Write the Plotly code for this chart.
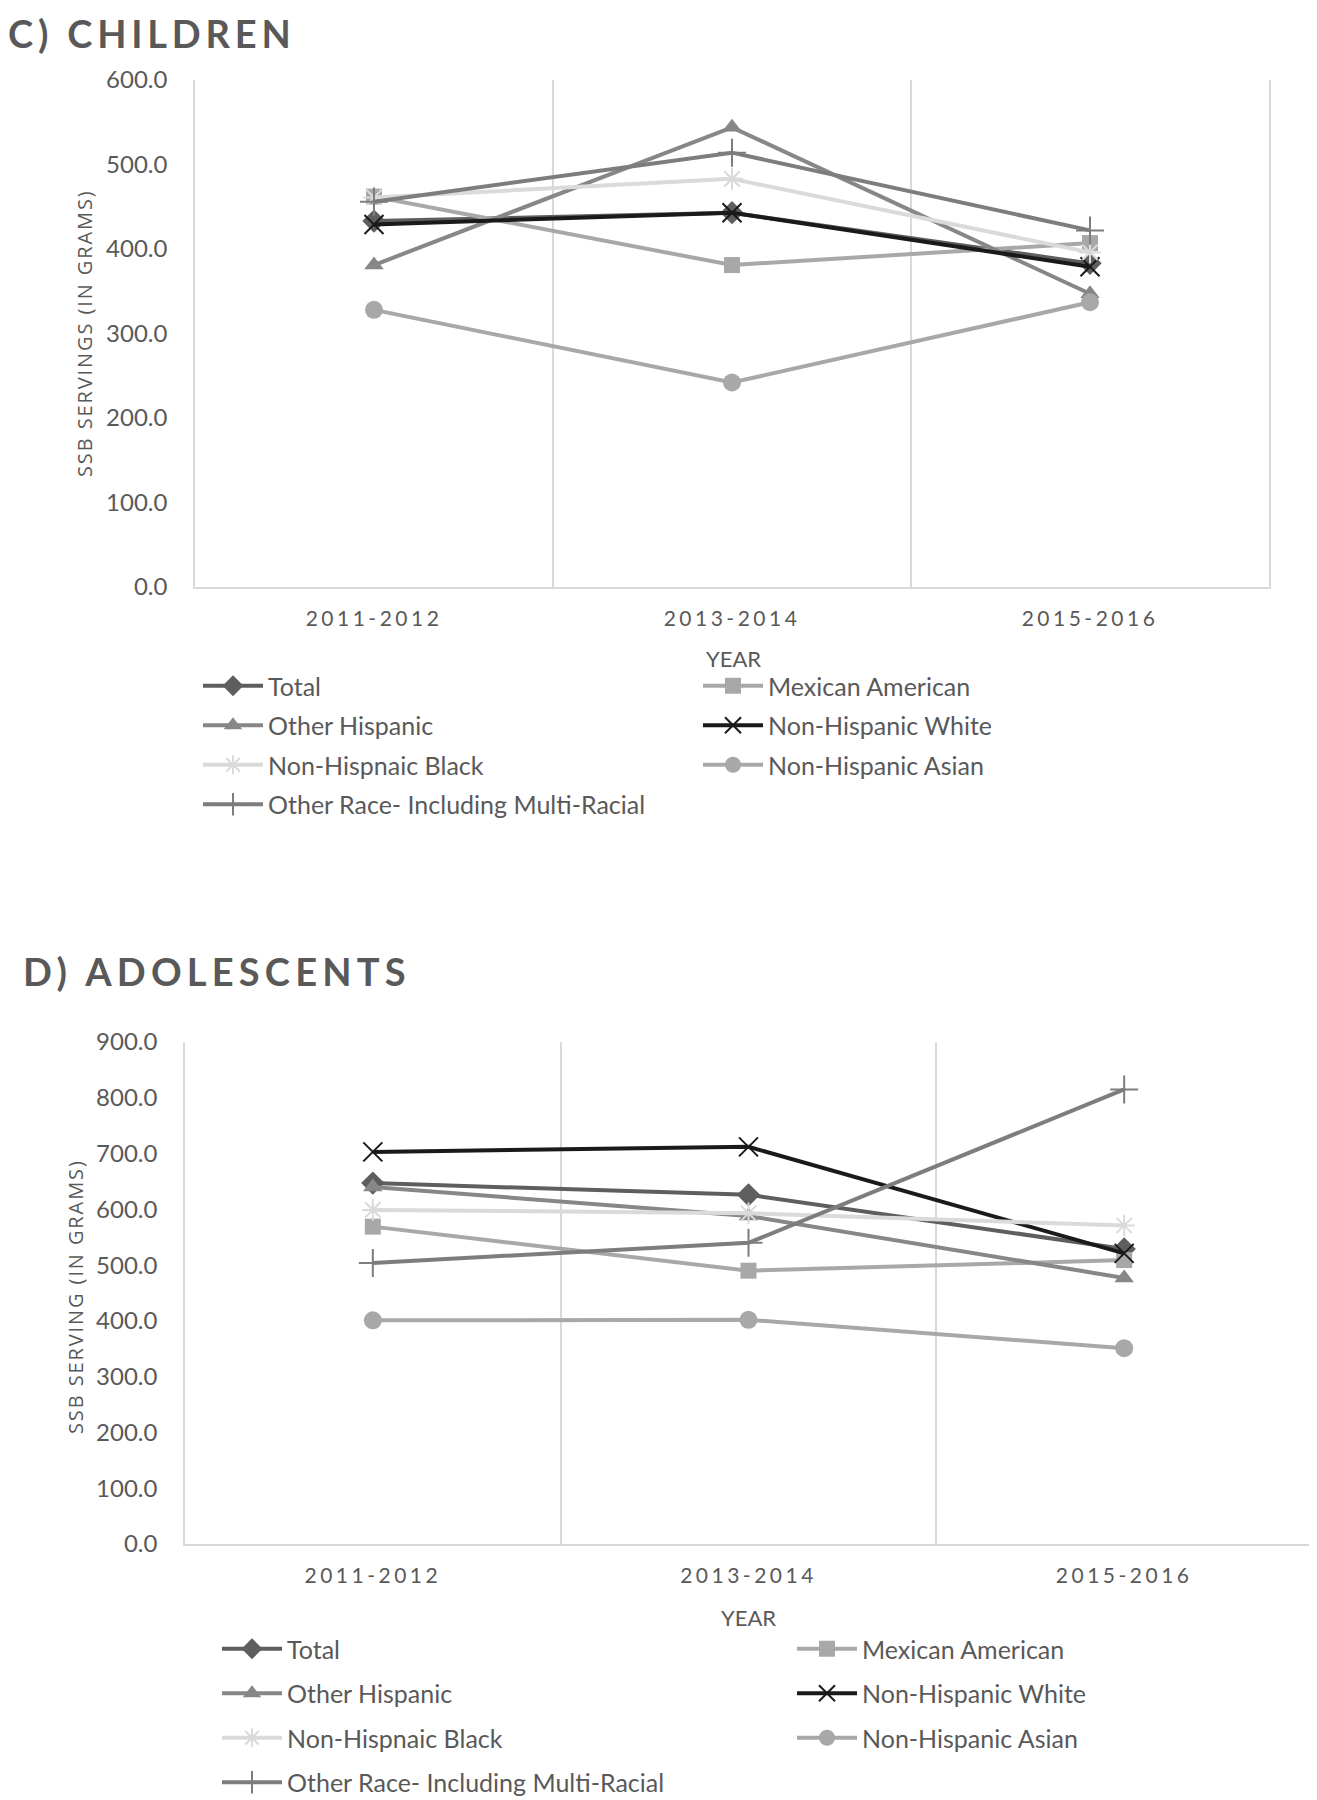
import plotly.graph_objects as go

# ---------------- data ----------------
years = ["2011-2012", "2013-2014", "2015-2016"]
series_names = ["Total", "Mexican American", "Other Hispanic", "Non-Hispanic White",
                "Non-Hispnaic Black", "Non-Hispanic Asian", "Other Race- Including Multi-Racial"]

children_total = [433, 443, 383]
children_mexican = [462, 381, 407]
children_other_hisp = [381, 544, 347]
children_nh_white = [429, 443, 379]
children_nh_black = [461, 483, 396]
children_nh_asian = [328, 242, 337]
children_other_race = [456, 514, 422]

adol_total = [647, 626, 529]
adol_mexican = [569, 490, 509]
adol_other_hisp = [640, 588, 477]
adol_nh_white = [703, 712, 521]
adol_nh_black = [599, 593, 571]
adol_nh_asian = [401, 402, 351]
adol_other_race = [504, 540, 815]

children = [children_total, children_mexican, children_other_hisp, children_nh_white,
            children_nh_black, children_nh_asian, children_other_race]
adolescents = [adol_total, adol_mexican, adol_other_hisp, adol_nh_white,
               adol_nh_black, adol_nh_asian, adol_other_race]

# ---------------- styles ----------------
PAGE_OFF = 8                 # default body margin of the html page
W, H = 1317 - PAGE_OFF, 1800 - PAGE_OFF
FONT = "Lato"
TXT = "#595959"
GRID = "#d9d9d9"

styles = [
    dict(color="#5e5e5e", symbol="diamond", size=18, lw=0),
    dict(color="#a8a8a8", symbol="square", size=16, lw=0),
    dict(color="#878787", symbol="triangle-up", size=17, lw=0),
    dict(color="#1a1a1a", symbol="x-thin-open", size=19, lw=2),
    dict(color="#dadada", symbol="asterisk-open", size=18, lw=2),
    dict(color="#a8a8a8", symbol="circle", size=18, lw=0),
    dict(color="#7d7d7d", symbol="cross-thin-open", size=20, lw=2),
]


def px_x(v):
    return (v - PAGE_OFF) / W


def px_y(v):
    return 1 - (v - PAGE_OFF) / H


fig = go.Figure()

for tag, data, xa, ya, lg1, lg2 in [("c", children, "x", "y", "legend", "legend3"),
                                     ("d", adolescents, "x2", "y2", "legend2", "legend4")]:
    for i, (name, vals, st) in enumerate(zip(series_names, data, styles)):
        fig.add_trace(go.Scatter(
            x=years, y=vals, name=name, mode="lines+markers",
            xaxis=xa, yaxis=ya, legend=lg1 if i % 2 == 0 else lg2,
            legendgroup=f"{tag}{i}",
            line=dict(color=st["color"], width=4),
            marker=dict(symbol=st["symbol"], size=st["size"], color=st["color"],
                        line=dict(color=st["color"], width=st["lw"])),
        ))

ticktext = ['<span style="letter-spacing:3.5px">%s</span>' % y for y in years]

xcommon = dict(type="category", tickmode="array", tickvals=years, ticktext=ticktext,
               tickson="boundaries", showgrid=True, gridcolor=GRID, gridwidth=1.5,
               showline=True, linecolor=GRID, linewidth=2, ticks="", zeroline=False,
               tickfont=dict(family=FONT, size=21, color=TXT), ticklabelstandoff=12,
               range=[-0.5, 2.5], fixedrange=True, automargin=False)
ycommon = dict(showgrid=False, zeroline=False, showline=True, mirror=True, linecolor=GRID,
               linewidth=1.5, ticks="", tickformat=".1f", automargin=False,
               tickfont=dict(family=FONT, size=24, color=TXT), ticklabelstandoff=21)

LEGFONT = dict(family=FONT, size=25, color=TXT)


def leg(xpx, ypx, gap):
    return dict(orientation="v", x=px_x(xpx), xanchor="left", y=px_y(ypx), yanchor="top",
                itemwidth=60, traceorder="grouped", tracegroupgap=gap, font=LEGFONT,
                bgcolor="rgba(0,0,0,0)", borderwidth=0)


fig.update_layout(
    width=W, height=H, margin=dict(l=0, r=0, t=0, b=0, autoexpand=False),
    paper_bgcolor="white", plot_bgcolor="white", showlegend=True,
    xaxis=dict(domain=[px_x(195), px_x(1269)], anchor="y", **xcommon),
    yaxis=dict(domain=[px_y(587), px_y(80)], anchor="x", range=[0, 600], dtick=100, **ycommon),
    xaxis2=dict(domain=[px_x(185), px_x(1312)], anchor="y2", **xcommon),
    yaxis2=dict(domain=[px_y(1544), px_y(1042)], anchor="x2", range=[0, 900], dtick=100, **ycommon),
    legend=leg(198, 663, 4),
    legend3=leg(698, 663, 4),
    legend2=leg(217, 1626, 9),
    legend4=leg(792, 1626, 9),
)

ann = []
ann.append(dict(text='<span style="letter-spacing:4.8px">C) CHILDREN</span>', x=px_x(6), y=1.0,
                xanchor="left", yanchor="top",
                font=dict(family=FONT, size=38, color=TXT, weight="bold")))
ann.append(dict(text='<span style="letter-spacing:5.2px">D) ADOLESCENTS</span>', x=px_x(21), y=px_y(971),
                xanchor="left", yanchor="middle",
                font=dict(family=FONT, size=38, color=TXT, weight="bold")))
ann.append(dict(text='<span style="letter-spacing:1.9px">SSB SERVINGS (IN GRAMS)</span>', x=px_x(84), y=px_y(333),
                textangle=-90, xanchor="center", yanchor="middle",
                font=dict(family="Open Sans", size=20, color=TXT)))
ann.append(dict(text='<span style="letter-spacing:1.9px">SSB SERVING (IN GRAMS)</span>', x=px_x(75), y=px_y(1297),
                textangle=-90, xanchor="center", yanchor="middle",
                font=dict(family="Open Sans", size=20, color=TXT)))
ann.append(dict(text="YEAR", x=px_x(733), y=px_y(658), xanchor="center", yanchor="middle",
                font=dict(family=FONT, size=22, color=TXT)))
ann.append(dict(text="YEAR", x=px_x(749), y=px_y(1617), xanchor="center", yanchor="middle",
                font=dict(family=FONT, size=22, color=TXT)))
for a in ann:
    a.update(xref="paper", yref="paper", showarrow=False)
fig.update_layout(annotations=ann)

fig.write_html("out.html")
